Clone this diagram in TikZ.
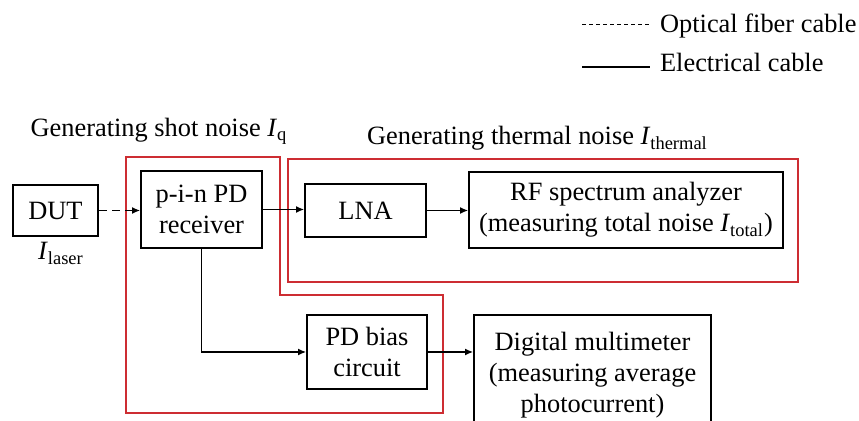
\documentclass[tikz,border=0pt]{standalone}
\usepackage{fontspec}
\setmainfont{Liberation Serif}
\usetikzlibrary{arrows.meta}
\definecolor{regionred}{RGB}{205,45,50}
\newcommand{\curr}[2]{\textit{#1}\textsubscript{#2}}

\begin{document}
\begin{tikzpicture}[x=0.5pt,y=-0.5pt,
  font=\fontsize{13.2}{15.5}\selectfont,
  blk/.style={draw, line width=1pt, align=center, inner sep=0pt},
  region/.style={draw=regionred, line width=0.8pt},
  wire/.style={line width=0.6pt, -{Latex[length=4pt,width=3.5pt]}},
  fiber/.style={wire, dash pattern=on 4pt off 2.5pt}]
  \useasboundingbox (0,0) rectangle (859,421);
  \draw[region] (126,157) -- (280,157) -- (280,295) -- (443,295)
    -- (443,413) -- (126,413) -- cycle;
  \draw[region] (288,159) rectangle (798,282);
  \node[blk, minimum width=42.5pt, minimum height=25.5pt] (dut) at (55.5,210.5) {DUT};
  \node[blk, minimum width=60.5pt, minimum height=38.5pt] (pin) at (201.5,209.5) {p-i-n PD\\receiver};
  \node[blk, minimum width=60.5pt, minimum height=26.5pt] (lna) at (365.5,210.5) {LNA};
  \node[blk, minimum width=157pt, minimum height=38pt] (rfsa) at (626,210)
    {RF spectrum analyzer\\(measuring total noise \curr{I}{total})};
  \node[blk, minimum width=60pt, minimum height=37pt] (bias) at (367,352) {PD bias\\circuit};
  \node[blk, minimum width=118.5pt, minimum height=60pt] (dmm) at (592.5,375)
    {Digital multimeter\\(measuring average\\photocurrent)};
  \node[anchor=base] (shotlbl) at (159,137) {Generating shot noise \curr{I}{q}};
  \node[anchor=base] (thermlbl) at (537.5,145) {Generating thermal noise \curr{I}{thermal}};
  \node[anchor=base] (laser) at (61,260) {\curr{I}{laser}};
  \draw[fiber] (dut.east) -- (dut.east -| pin.west);
  \draw[wire] (pin.east) -- (pin.east -| lna.west);
  \draw[wire] (lna.east) -- (lna.east -| rfsa.west);
  \draw[wire] (pin.south) |- (bias.west);
  \draw[wire] (bias.east) -- (bias.east -| dmm.west);
  \coordinate (fibA) at (582,25);
  \coordinate (fibB) at (650,25);
  \coordinate (elcA) at (582,67);
  \coordinate (elcB) at (650,67);
  \draw[line width=0.5pt, dash pattern=on 2pt off 1.5pt] (fibA) -- (fibB);
  \draw[line width=0.7pt] (elcA) -- (elcB);
  \node[anchor=base west] (fibtxt) at (653,33) {Optical fiber cable};
  \node[anchor=base west] (elctxt) at (653,72) {Electrical cable};
\end{tikzpicture}
\end{document}
